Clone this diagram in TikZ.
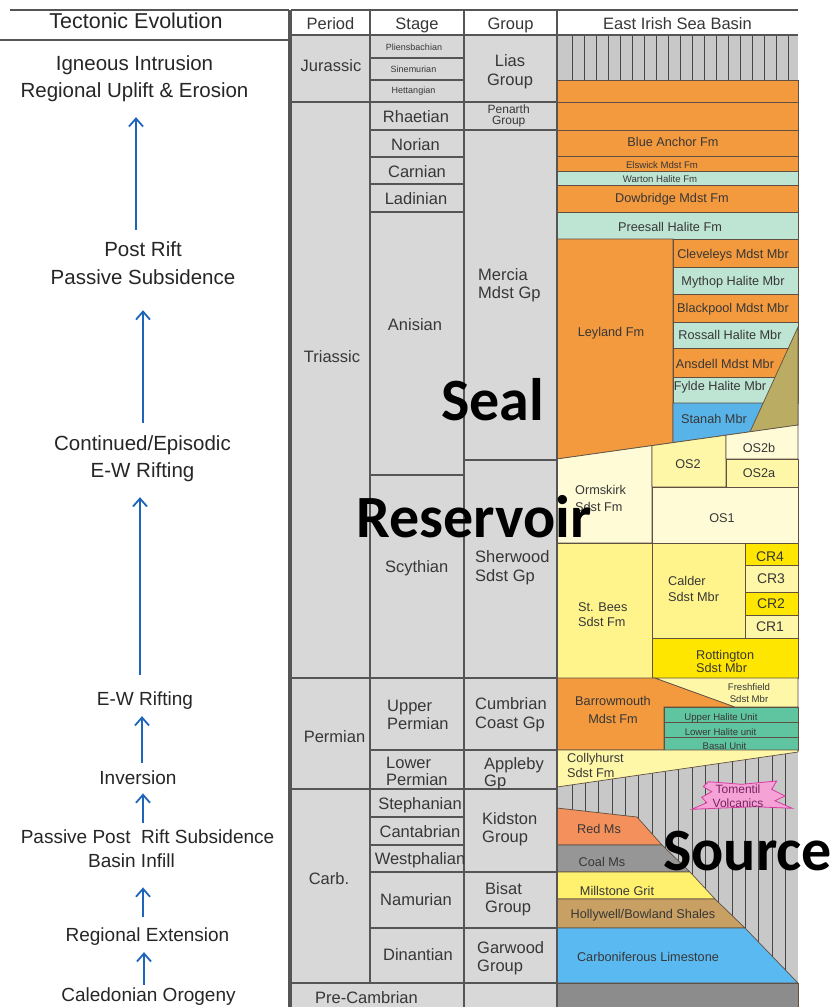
\documentclass[tikz,border=0pt]{standalone}
\usepackage{fontspec}
\setmainfont{Liberation Sans}
\newfontfamily\bigfont{Carlito}
\usetikzlibrary{positioning,arrows.meta}
\definecolor{cellgray}{RGB}{216,216,216}
\definecolor{rulegray}{RGB}{85,85,85}
\definecolor{hatchgray}{RGB}{200,200,200}
\definecolor{hatchline}{RGB}{70,70,70}
\definecolor{stratumline}{RGB}{95,80,65}
\definecolor{labelgray}{RGB}{55,55,55}
\definecolor{evoblue}{RGB}{30,100,185}
\definecolor{mudorange}{RGB}{243,153,62}
\definecolor{halitemint}{RGB}{190,228,212}
\definecolor{stanahblue}{RGB}{88,180,232}
\definecolor{wedgeolive}{RGB}{186,172,98}
\definecolor{sandpale}{RGB}{255,251,214}
\definecolor{sandlight}{RGB}{255,247,168}
\definecolor{sandmid}{RGB}{255,243,140}
\definecolor{sandbright}{RGB}{255,230,0}
\definecolor{halteal}{RGB}{95,196,160}
\definecolor{redms}{RGB}{244,144,92}
\definecolor{coalgray}{RGB}{150,150,150}
\definecolor{gritsand}{RGB}{255,240,110}
\definecolor{shaletan}{RGB}{200,160,100}
\definecolor{limeblue}{RGB}{90,185,240}
\definecolor{basegray}{RGB}{140,140,140}
\definecolor{volcpink}{RGB}{245,162,215}
\definecolor{volcedge}{RGB}{215,60,160}
\definecolor{volctext}{RGB}{120,35,95}

\begin{document}
\begin{tikzpicture}[x=1pt, y=-1pt,
    gridrule/.style={draw=rulegray, line width=1.1pt},
    stratum/.style={draw=stratumline, line width=0.7pt},
    hatchrule/.style={draw=hatchline, line width=0.7pt},
    evotext/.style={text=black!85, font=\fontsize{19}{27}\selectfont, align=center, inner sep=0pt},
    bigevo/.style={evotext, font=\fontsize{20.5}{27}\selectfont},
    evoarrow/.style={draw=evoblue, line width=1.8pt, -{Straight Barb[length=8pt, width=14pt]}},
    celltext/.style={text=labelgray, font=\fontsize{16.5}{18.5}\selectfont, align=center, inner sep=0pt},
    smallcell/.style={celltext, font=\fontsize{9}{10}\selectfont},
    basintext/.style={text=labelgray, font=\fontsize{12.7}{15}\selectfont, align=center, inner sep=0pt},
    tinybasin/.style={basintext, font=\fontsize{9.6}{11.6}\selectfont},
    bigword/.style={font=\bigfont\bfseries\fontsize{60}{60}\selectfont, anchor=base west, inner sep=0pt}
  ]
  \useasboundingbox (0,0) rectangle (832,1007);
  \fill[white] (0,0) rectangle (832,1007);

  % tectonic evolution
  \draw[gridrule] (10,10) -- (289,10);
  \draw[gridrule] (0,40) -- (289,40);
  \draw[gridrule] (289,10) -- (289,1007);
  \node[evotext, font=\fontsize{21.5}{24}\selectfont, anchor=base] (evohead) at (136,28.5) {Tectonic Evolution};
  \node[bigevo] (uplift) at (134.5,78.2) {Igneous Intrusion\\Regional Uplift \& Erosion};
  \node[bigevo, font=\fontsize{20.5}{28}\selectfont] (postrift) at (143,263.5) {Post Rift\\Passive Subsidence};
  \node[bigevo] (continued) at (142.5,458.2) {Continued/Episodic\\E-W Rifting};
  \node[evotext, anchor=base] (ewrift) at (145,705) {E-W Rifting};
  \node[evotext, anchor=base] (inversion) at (138,784) {Inversion};
  \node[evotext, anchor=base] (ppost) at (147.5,843) {Passive Post\ \ Rift Subsidence};
  \node[evotext, anchor=base] (infill) at (131.5,867) {Basin Infill};
  \node[evotext, anchor=base] (extension) at (147.5,941) {Regional Extension};
  \node[evotext, anchor=base] (caledonian) at (148.5,1001.5) {Caledonian Orogeny};
  \draw[evoarrow, shorten <=12pt, shorten >=15.7pt] (postrift.north -| 136,0) -- (uplift.south -| 136,0);
  \draw[evoarrow, shorten <=12pt, shorten >=25pt] (continued.north -| 143,0) -- (postrift.south -| 143,0);
  \draw[evoarrow, shorten <=16pt, shorten >=15.7pt] (ewrift.north -| 140,0) -- (continued.south -| 140,0);
  \draw[evoarrow, shorten <=7pt, shorten >=7pt] (inversion.north -| 142,0) -- (ewrift.south -| 142,0);
  \draw[evoarrow, shorten <=6pt, shorten >=9pt] (ppost.north -| 143,0) -- (inversion.south -| 143,0);
  \draw[evoarrow, shorten <=10pt, shorten >=20pt] (extension.north -| 143,0) -- (infill.south -| 143,0);
  \draw[evoarrow, shorten <=3pt, shorten >=7pt] (caledonian.north -| 144,0) -- (extension.south -| 144,0);

  % stratigraphic table
  \fill[cellgray] (291,35) rectangle (557,1007);

  % East Irish Sea Basin column
  \fill[hatchgray] (557,35) rectangle (798,80);
  \foreach \x in {572,584,...,788} \draw[hatchrule] (\x,35) -- (\x,80);
  \filldraw[stratum, fill=mudorange] (557,80) rectangle (798,102);
  \filldraw[stratum, fill=mudorange] (557,102) rectangle (798,130);
  \filldraw[stratum, fill=mudorange] (557,130) rectangle (798,156);
  \filldraw[stratum, fill=mudorange] (557,156) rectangle (798,171);
  \filldraw[stratum, fill=halitemint] (557,171) rectangle (798,185);
  \filldraw[stratum, fill=mudorange] (557,185) rectangle (798,212);
  \filldraw[stratum, fill=halitemint] (557,212) rectangle (798,239);
  \filldraw[stratum, fill=mudorange] (557,239) -- (673,239) -- (673,442.6) -- (557,459) -- cycle;
  \foreach \ya/\yb/\c in {239/267/mudorange, 267/294/halitemint, 294/322/mudorange,
      322/348/halitemint, 348/377/mudorange, 377/403/halitemint}
    \filldraw[stratum, fill=\c] (673,\ya) rectangle (798,\yb);
  \filldraw[stratum, fill=stanahblue] (673,403) -- (798,403) -- (798,425) -- (673,442.6) -- cycle;
  \filldraw[stratum, fill=wedgeolive] (798,327) -- (750,431.8) -- (798,425) -- cycle;
  % Sherwood sandstones
  \filldraw[stratum, fill=sandpale] (557,459) -- (652,445.6) -- (652,543) -- (557,543) -- cycle;
  \filldraw[stratum, fill=sandlight] (652,445.6) -- (726,435.2) -- (726,487) -- (652,487) -- cycle;
  \filldraw[stratum, fill=sandpale] (726,435.2) -- (798,425) -- (798,459) -- (726,459) -- cycle;
  \filldraw[stratum, fill=sandlight] (726,459) rectangle (798,487);
  \filldraw[stratum, fill=sandpale] (652,487) rectangle (798,543);
  \filldraw[stratum, fill=sandmid] (557,543) rectangle (652,678);
  \filldraw[stratum, fill=sandmid] (652,543) rectangle (745,638);
  \foreach \ya/\yb/\c in {543/565/sandbright, 565/592/sandlight, 592/615/sandbright, 615/638/sandlight}
    \filldraw[stratum, fill=\c] (745,\ya) rectangle (798,\yb);
  \filldraw[stratum, fill=sandbright] (652,638) rectangle (798,678);
  % Permian
  \filldraw[stratum, fill=mudorange] (557,678) -- (655,678) -- (735,707) -- (664,707) -- (664,750) -- (557,750) -- cycle;
  \filldraw[stratum, fill=sandlight] (655,678) -- (798,678) -- (798,707) -- (735,707) -- cycle;
  \foreach \ya/\yb in {707/722, 722/737, 737/750}
    \filldraw[stratum, fill=halteal] (664,\ya) rectangle (798,\yb);
  \fill[hatchgray] (557,750) rectangle (798,983);
  \foreach \x in {572,585.33,...,786} \draw[hatchrule] (\x,750) -- (\x,983);
  \filldraw[stratum, fill=sandlight] (557,750) -- (798,750) -- (798,752) -- (557,787) -- cycle;
  \filldraw[draw=volcedge, line width=0.8pt, fill=volcpink] (708.3,781.7) -- (741.7,784.3) -- (776.7,781)
    -- (771.7,789.3) -- (785,796) -- (775,800.7) -- (792.3,808.3) -- (755,806.7) -- (691.7,809.3)
    -- (706.7,802.7) -- (701.7,797.3) -- (711.7,791.7) -- (703.3,786.7) -- cycle;
  % Carboniferous
  \filldraw[stratum, fill=redms] (557,808) -- (637,817) -- (662,845) -- (557,845) -- cycle;
  \filldraw[stratum, fill=coalgray] (557,845) -- (662,845) -- (690,872) -- (557,872) -- cycle;
  \filldraw[stratum, fill=gritsand] (557,872) -- (690,872) -- (715,899) -- (557,899) -- cycle;
  \filldraw[stratum, fill=shaletan] (557,899) -- (715,899) -- (745,928) -- (557,928) -- cycle;
  \filldraw[stratum, fill=limeblue] (557,928) -- (745,928) -- (798,983) -- (557,983) -- cycle;
  \filldraw[stratum, fill=basegray] (557,983) rectangle (798,1007);

  % table rules
  \draw[gridrule] (291,10) -- (798,10);
  \draw[gridrule] (291,35) -- (798,35);
  \foreach \y in {102,678,789,983} \draw[gridrule] (291,\y) -- (557,\y);
  \foreach \y in {58,80,157,184,212,475,817,845} \draw[gridrule] (370,\y) -- (464,\y);
  \foreach \y in {130,750,872,928} \draw[gridrule] (370,\y) -- (557,\y);
  \draw[gridrule] (464,460) -- (557,460);
  \draw[gridrule] (291,10) -- (291,1007);
  \draw[gridrule] (370,10) -- (370,983);
  \draw[gridrule] (464,10) -- (464,1007);
  \draw[gridrule] (557,10) -- (557,1007);

  % headers
  \node[celltext, anchor=base] (hperiod) at (330.5,29) {Period};
  \node[celltext, anchor=base] (hstage) at (417,29) {Stage};
  \node[celltext, anchor=base] (hgroup) at (510.5,29) {Group};
  \node[celltext, anchor=base] (hbasin) at (677.5,29) {East Irish Sea Basin};

  % periods
  \node[celltext, anchor=base] (jurassic) at (331,71.7) {Jurassic};
  \node[celltext, anchor=base] (triassic) at (332,362.7) {Triassic};
  \node[celltext, anchor=base] (permian) at (334.5,742) {Permian};
  \node[celltext, anchor=base] (carb) at (329,884) {Carb.};
  \node[celltext, anchor=base] (precambrian) at (366.5,1003.3) {Pre-Cambrian};

  % stages
  \node[smallcell, anchor=base] (pliens) at (414,50) {Pliensbachian};
  \node[smallcell, anchor=base] (sinem) at (413.5,72) {Sinemurian};
  \node[smallcell, anchor=base] (hettang) at (413.5,93.7) {Hettangian};
  \node[celltext, anchor=base] (rhaetian) at (416,122.7) {Rhaetian};
  \node[celltext, anchor=base] (norian) at (415.5,150.7) {Norian};
  \node[celltext, anchor=base] (carnian) at (417,177.3) {Carnian};
  \node[celltext, anchor=base] (ladinian) at (416,204) {Ladinian};
  \node[celltext, anchor=base] (anisian) at (415,330) {Anisian};
  \node[celltext, anchor=base] (scythian) at (416.7,572.7) {Scythian};
  \node[celltext, align=left, anchor=west, font=\fontsize{16.5}{18.3}\selectfont] (uperm) at (387,714.8) {Upper\\Permian};
  \node[celltext, align=left, anchor=west, font=\fontsize{16.5}{16.4}\selectfont] (lperm) at (386,771.5) {Lower\\Permian};
  \node[celltext, anchor=base] (stephan) at (420,809.3) {Stephanian};
  \node[celltext, anchor=base] (cantab) at (420,837.3) {Cantabrian};
  \node[celltext, anchor=base] (westph) at (420,864) {Westphalian};
  \node[celltext, anchor=base] (namur) at (416,905) {Namurian};
  \node[celltext, anchor=base] (dinant) at (418,960) {Dinantian};

  % groups
  \node[celltext] (lias) at (510,71.6) {Lias\\Group};
  \node[celltext, font=\fontsize{12}{10.5}\selectfont] (penarth) at (508.7,116) {Penarth\\Group};
  \node[celltext, align=left, anchor=west] (mercia) at (478,285.2) {Mercia\\Mdst Gp};
  \node[celltext, align=left, anchor=west] (sherwood) at (475,567.5) {Sherwood\\Sdst Gp};
  \node[celltext, align=left, anchor=west] (cumbrian) at (475,714.9) {Cumbrian\\Coast Gp};
  \node[celltext, align=left, anchor=west, font=\fontsize{16.5}{17}\selectfont] (appleby) at (484,773.3) {Appleby\\Gp};
  \node[celltext, align=left, anchor=west] (kidston) at (482,829.4) {Kidston\\Group};
  \node[celltext, align=left, anchor=west] (bisat) at (485,899.4) {Bisat\\Group};
  \node[celltext, align=left, anchor=west] (garwood) at (477,958) {Garwood\\Group};

  % basin labels
  \node[basintext, anchor=base] (blueanchor) at (673,146) {Blue Anchor Fm};
  \node[tinybasin, anchor=base] (elswick) at (662,168.3) {Elswick Mdst Fm};
  \node[tinybasin, anchor=base] (warton) at (660,182) {Warton Halite Fm};
  \node[basintext, anchor=base] (dowbridge) at (672,202) {Dowbridge Mdst Fm};
  \node[basintext, anchor=base] (preesall) at (670,231) {Preesall Halite Fm};
  \node[basintext, anchor=base] (leyland) at (611,336.7) {Leyland Fm};
  \node[basintext, anchor=base] (cleveleys) at (733,258.3) {Cleveleys Mdst Mbr};
  \node[basintext, anchor=base] (mythop) at (733,285) {Mythop Halite Mbr};
  \node[basintext, anchor=base] (blackpool) at (733,312.3) {Blackpool Mdst Mbr};
  \node[basintext, anchor=base] (rossall) at (730,339.3) {Rossall Halite Mbr};
  \node[basintext, anchor=base] (ansdell) at (725,368.3) {Ansdell Mdst Mbr};
  \node[basintext, anchor=base] (fylde) at (720,390) {Fylde Halite Mbr};
  \node[basintext, anchor=base] (stanah) at (714,423.3) {Stanah Mbr};
  \node[basintext, align=left, anchor=west, font=\fontsize{12.7}{16.7}\selectfont] (ormskirk) at (575,498.7) {Ormskirk\\Sdst Fm};
  \node[basintext, anchor=base] (os2) at (688,468.3) {OS2};
  \node[basintext, anchor=base] (os2b) at (759,452.7) {OS2b};
  \node[basintext, anchor=base] (os2a) at (759,477.3) {OS2a};
  \node[basintext, anchor=base] (os1) at (722,522.3) {OS1};
  \node[basintext, align=left, anchor=west] (stbees) at (578,614.5) {St. Bees\\Sdst Fm};
  \node[basintext, align=left, anchor=west, font=\fontsize{12.7}{16}\selectfont] (calder) at (668,589) {Calder\\Sdst Mbr};
  \node[basintext, anchor=base, font=\fontsize{14}{16}\selectfont] (cr4) at (770,561) {CR4};
  \node[basintext, anchor=base, font=\fontsize{14}{16}\selectfont] (cr3) at (771,583.3) {CR3};
  \node[basintext, anchor=base, font=\fontsize{14}{16}\selectfont] (cr2) at (771,608.3) {CR2};
  \node[basintext, anchor=base, font=\fontsize{14}{16}\selectfont] (cr1) at (770,631.7) {CR1};
  \node[basintext, align=left, anchor=west, font=\fontsize{12.7}{13.4}\selectfont] (rotting) at (696,661.3) {Rottington\\Sdst Mbr};
  \node[basintext, font=\fontsize{12.7}{17.3}\selectfont] (barrow) at (613,710) {Barrowmouth\\Mdst Fm};
  \node[tinybasin] (freshfield) at (749,692.9) {Freshfield\\Sdst Mbr};
  \node[tinybasin, anchor=base] (upperhal) at (721,720) {Upper Halite Unit};
  \node[tinybasin, anchor=base] (lowerhal) at (720.5,735.7) {Lower Halite unit};
  \node[tinybasin, anchor=base] (basal) at (724.5,749) {Basal Unit};
  \node[basintext, align=left, anchor=west] (colly) at (567,765.2) {Collyhurst\\Sdst Fm};
  \node[basintext, text=volctext, font=\fontsize{12}{14}\selectfont] (tomentil) at (738,796) {Tomentil\\Volcanics};
  \node[basintext, anchor=base] (redlbl) at (599,833.3) {Red Ms};
  \node[basintext, anchor=base] (coallbl) at (602,866) {Coal Ms};
  \node[basintext, anchor=base] (millstone) at (617,895) {Millstone Grit};
  \node[basintext, anchor=base] (hollywell) at (643,918.3) {Hollywell/Bowland Shales};
  \node[basintext, anchor=base] (limestone) at (648,961.7) {Carboniferous Limestone};

  % play elements
  \node[bigword] (seal) at (441,420) {Seal};
  \node[bigword] (reservoir) at (356,537) {Reservoir};
  \node[bigword] (source) at (663,870) {Source};
\end{tikzpicture}
\end{document}
